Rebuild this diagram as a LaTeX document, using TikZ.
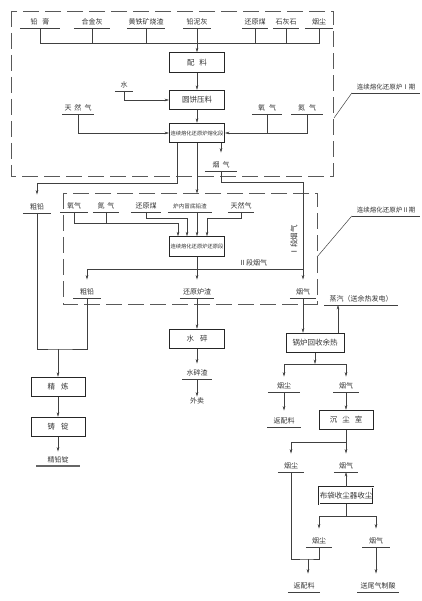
\documentclass[tikz,border=0pt]{standalone}
\usepackage{fontspec}
\setmainfont{Noto Sans CJK SC}
\usetikzlibrary{arrows.meta}
\begin{document}
\begin{tikzpicture}[x=1pt,y=-1pt,
  every node/.style={text=black!80},
  ln/.style={draw=black!75, line width=0.5pt},
  arr/.style={ln,-{Stealth[length=4.5pt,width=2.6pt]}},
  toLab/.style={arr,shorten >=7pt},
  box/.style={draw=black!85, line width=0.9pt, minimum width=55pt, minimum height=19.5pt, inner sep=0pt, font=\fontsize{7.5}{8}\selectfont},
  fbox/.style={box, font=\fontsize{5.3}{6}\selectfont},
  lab/.style={anchor=south, inner xsep=0pt, inner ysep=2pt, text height=5.5pt, text depth=1.5pt, font=\fontsize{7}{8}\selectfont},
  frame/.style={draw=black!65, line width=0.6pt, dash pattern=on 16pt off 6pt}
]
\useasboundingbox (0,0) rectangle (421,601);

% dashed frames
\draw[frame] (11,11) rectangle (333,176);
\draw[frame] (63,193) rectangle (317,304);

% top raw materials
\node[lab, minimum width=40pt] (tA) at (40,28) {铅\hspace{5pt}膏};
\node[lab, minimum width=36pt] (tB) at (92,28) {合金灰};
\node[lab, minimum width=38pt] (tC) at (146,28) {黄铁矿烧渣};
\node[lab, minimum width=28pt] (tD) at (197,28) {铅泥灰};
\node[lab, minimum width=26pt] (tE) at (255,28) {还原煤};
\node[lab, minimum width=26pt] (tF) at (286,28) {石灰石};
\node[lab, minimum width=28pt] (tG) at (319,28) {烟尘};

% section I boxes
\node[box] (bPL) at (197,62.5) {配\hspace{5pt}料};
\node[box] (bYB) at (197,100) {圆饼压料};
\node[fbox] (bF1) at (197,133) {连续熔化还原炉熔化段};

\node[lab, minimum width=18pt] (tW) at (124,91) {水};
\node[lab, minimum width=31pt] (tN1) at (78,114) {天\hspace{3pt}然\hspace{3pt}气};
\node[lab, minimum width=30pt] (tO1) at (267,114) {氧\hspace{4pt}气};
\node[lab, minimum width=31pt] (tO2) at (307,114) {氮\hspace{4pt}气};

\node[lab, minimum width=68pt, font=\fontsize{6.5}{7}\selectfont] (L1) at (386,93) {连续熔化还原炉Ⅰ期};
\node[lab, minimum width=68pt, font=\fontsize{6.5}{7}\selectfont] (L2) at (386,216) {连续熔化还原炉Ⅱ期};

\node[lab, minimum width=32pt] (yq1) at (221,171) {烟\hspace{3pt}气};
\node[lab, minimum width=28pt] (cu1) at (37,213) {粗铅};

% section II labels
\node[lab, minimum width=27pt] (o2a) at (74,212) {氧气};
\node[lab, minimum width=26pt] (n2b) at (106,212) {氮\hspace{3pt}气};
\node[lab, minimum width=30pt] (hym) at (146,212) {还原煤};
\node[lab, minimum width=44pt, font=\fontsize{5.6}{6}\selectfont] (lz) at (190,212) {炉内冒底铅渣};
\node[lab, minimum width=26pt] (trq) at (241,212) {天然气};
\node[fbox] (bF2) at (197,246.5) {连续熔化还原炉还原段};

\node[lab, minimum width=27pt] (cu2) at (87,298) {粗铅};
\node[lab, minimum width=34pt] (hyz) at (197,298) {还原炉渣};
\node[lab, minimum width=26pt] (yq2) at (303,298) {烟气};

\node[font=\fontsize{7}{8}\selectfont, inner sep=1pt] (t2d) at (253,263) {Ⅱ段烟气};
\node[font=\fontsize{7.5}{8}\selectfont, inner sep=1pt, rotate=90] (t1d) at (294,240) {Ⅰ段烟气};

% lower left
\node[box, minimum width=54pt] (bJL) at (58,387) {精\hspace{6pt}炼};
\node[box, minimum width=54pt] (bZD) at (58,427) {铸\hspace{6pt}锭};
\node[lab, minimum width=43pt] (jqd) at (58,466) {精铅锭};

% middle
\node[box] (bSS) at (197,339) {水\hspace{6pt}碎};
\node[lab, minimum width=29pt] (scz) at (197,379) {水碎渣};
\node[font=\fontsize{7}{8}\selectfont, inner sep=1pt] (wm) at (197,401) {外卖};

% right
\node[box, minimum width=58pt] (bGL) at (315,343) {锅炉回收余热};
\node[lab, minimum width=73pt] (zq) at (361,305) {蒸汽（送余热发电）};
\node[lab, minimum width=32pt] (yc1) at (284,392) {烟尘};
\node[lab, minimum width=25pt] (yq3) at (346,392) {烟气};
\node[lab, minimum width=33pt] (fp1) at (284,427) {返配料};
\node[box, minimum width=54pt] (bCC) at (346,420) {沉\hspace{5pt}尘\hspace{5pt}室};
\node[lab, minimum width=26pt] (yc2) at (291,472) {烟尘};
\node[lab, minimum width=24pt] (yq4) at (346,472) {烟气};
\node[box, minimum width=54pt, minimum height=17pt, double, double distance=0.6pt, line width=0.5pt] (bBD) at (346,495.5) {布袋收尘器收尘};
\node[lab, minimum width=26pt] (yc3) at (319,547) {烟尘};
\node[lab, minimum width=27pt] (yq5) at (376,547) {烟气};
\node[lab, minimum width=32pt] (fp2) at (304,592) {返配料};
\node[lab, minimum width=41pt] (wq) at (378,592) {送尾气制酸};

% underlines
\foreach \n in {tA,tB,tC,tD,tE,tF,tG,tW,tN1,tO1,tO2,L1,L2,yq1,cu1,o2a,n2b,hym,lz,trq,cu2,hyz,yq2,scz,zq,yc1,yq3,fp1,yc2,yq4,yc3,yq5,fp2,wq}
  \draw[ln] (\n.south west) -- (\n.south east);
\draw[draw=black!60, line width=1.5pt] (jqd.south west) -- (jqd.south east);

% coordinates
\coordinate (hb) at (0,43);
\coordinate (hb2) at (0,183);
\coordinate (hb3) at (0,182);
\coordinate (hb4) at (0,223);
\coordinate (hb5) at (0,218);
\coordinate (f1r) at (334,118);
\coordinate (f2r) at (317,257);
\coordinate (c1) at ([xshift=-20pt]bF1.south);
\coordinate (c3) at ([xshift=24pt]bF1.south);
\coordinate (i1) at ([xshift=-19pt]bF2.north);
\coordinate (i2) at ([xshift=-10pt]bF2.north);
\coordinate (i4) at ([xshift=10pt]bF2.north);
\coordinate (j2) at (303,269);
\coordinate (mj) at (58,349);
\coordinate (gz) at ([xshift=23pt]bGL.north);
\coordinate (s1) at (315,364);
\coordinate (s2) at (346,442);
\coordinate (s3) at (346,516);
\coordinate (m3) at (308,559);

% top connectors
\draw[ln] (tA.south) -- (tA.south |- hb) -- (tG.south |- hb) -- (tG.south);
\foreach \n in {tB,tC,tE,tF} \draw[ln] (\n.south) -- (\n.south |- hb);
\draw[arr] (tD.south) -- (bPL.north);
\draw[arr] (bPL.south) -- (bYB.north);
\draw[arr] (bYB.south) -- (bF1.north);
\draw[arr] (tW.south) |- (bYB.west);
\draw[arr] (tN1.south) |- (bF1.west);
\draw[arr] (tO2.south) |- (bF1.east);
\draw[ln] (tO1.south) -- (tO1.south |- bF1.east);

% leaders
\draw[ln] (L1.south west) -- (f1r);
\draw[ln] (L2.south west) -- (f2r);

% furnace I outputs
\draw[toLab] (c1) |- (cu1.north |- hb2) -- (cu1.north);
\draw[toLab] (bF1.south) -- (bF1.south |- lz.north);
\draw[toLab] (c3) -- (yq1.north);
\draw[toLab] (yq1.south) |- (yq2.north |- hb3) -- (yq2.north);

% furnace II inputs
\draw[arr] (o2a.south) |- (i1 |- hb4) -- (i1);
\draw[ln] (n2b.south) -- (n2b.south |- hb4);
\draw[arr] (hym.south) |- (i2 |- hb5) -- (i2);
\draw[arr] (lz.south -| bF2.north) -- (bF2.north);
\draw[arr] (trq.south) |- (i4 |- hb5) -- (i4);

% furnace II outputs
\draw[toLab] (bF2.south) -- (hyz.north);
\draw[toLab] (j2) -| (cu2.north);

% lower left
\draw[ln] (cu1.south) |- (mj) -| (cu2.south);
\draw[arr] (mj) -- (bJL.north);
\draw[arr] (bJL.south) -- (bZD.north);
\draw[toLab, shorten >=3pt] (bZD.south) -- (jqd.north);

% middle
\draw[arr] (hyz.south) -- (bSS.north);
\draw[toLab, shorten >=4pt] (bSS.south) -- (scz.north);
\draw[arr] (scz.south) -- (wm.north);

% right
\draw[arr] (yq2.south) -- (yq2.south |- bGL.north);
\draw[arr] (gz) -- (gz |- zq.south);
\draw[arr] (bGL.south) -- (s1);
\draw[toLab, shorten >=4pt] (s1) -| (yc1.north);
\draw[toLab, shorten >=4pt] (s1) -| (yq3.north);
\draw[toLab, shorten >=5pt] (yc1.south) -- (fp1.north);
\draw[arr] (yq3.south) -- (bCC.north);
\draw[ln] (bCC.south) -- (s2);
\draw[toLab] (s2) -| (yc2.north);
\draw[toLab] (s2) -- (yq4.north);
\draw[arr] (bBD.north) -- (yq4.south);
\draw[ln] (bBD.south) -- (s3);
\draw[toLab] (s3) -| (yc3.north);
\draw[toLab] (s3) -| (yq5.north);
\draw[ln] (yc2.south) |- (m3) -| (yc3.south);
\draw[toLab] (m3) -- (m3 |- fp2.north);
\draw[toLab] (yq5.south) -- (yq5.south |- wq.north);
\end{tikzpicture}
\end{document}
